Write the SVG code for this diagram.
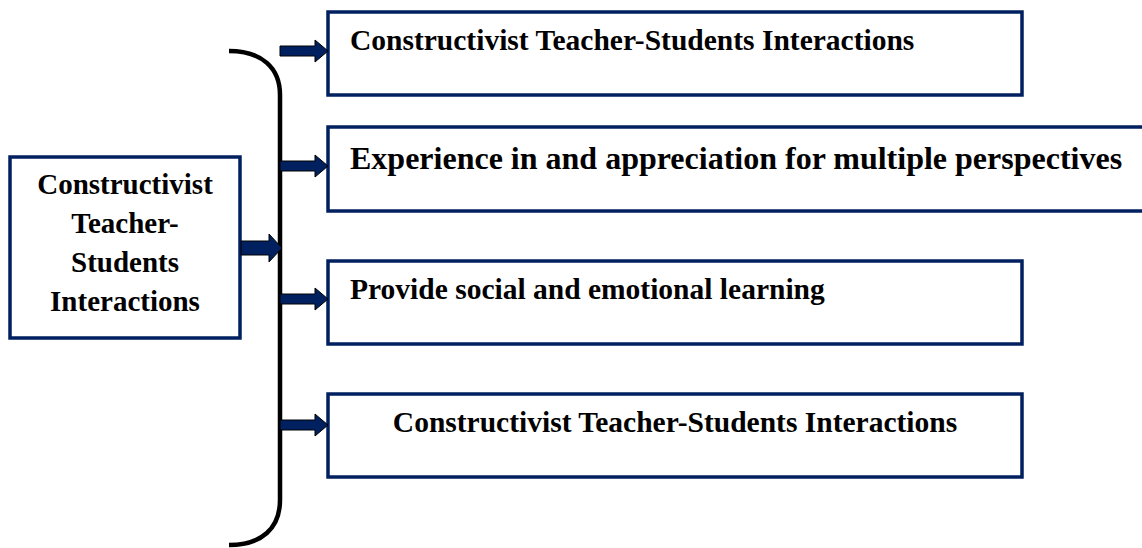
<svg xmlns="http://www.w3.org/2000/svg" xmlns:xlink="http://www.w3.org/1999/xlink" width="1142" height="548" viewBox="0 0 1142 548">
<style>
.box{fill:#fff;stroke:#002060;stroke-width:3.5}
.t{font-family:"Liberation Serif","Times New Roman",serif;font-weight:bold;fill:#000}
.arr{fill:#002060;stroke:#000;stroke-width:1}
.br{fill:none;stroke:#000;stroke-width:4.5}
</style>
<defs>
<polygon id="sa" class="arr" points="0,-5 35,-5 35,-11 48,0 35,11 35,5 0,5"/>
</defs>
<rect width="1142" height="548" fill="#fff"/>
<g id="n-main">
<rect class="box" x="10" y="157" width="230" height="181"/>
<text class="t" font-size="29" text-anchor="middle"><tspan x="125" y="194">Constructivist</tspan><tspan x="125" y="233">Teacher-</tspan><tspan x="125" y="272">Students</tspan><tspan x="125" y="311">Interactions</tspan></text>
</g>
<g id="n1">
<rect class="box" x="328" y="12" width="694" height="83"/>
<text class="t" font-size="29.5" x="350" y="50">Constructivist Teacher-Students Interactions</text>
</g>
<g id="n2">
<rect class="box" x="328" y="127" width="830" height="84"/>
<text class="t" font-size="32" x="350" y="169">Experience in and appreciation for multiple perspectives</text>
</g>
<g id="n3">
<rect class="box" x="328" y="261" width="694" height="83"/>
<text class="t" font-size="29.5" x="350" y="299">Provide social and emotional learning</text>
</g>
<g id="n4">
<rect class="box" x="328" y="394" width="694" height="83"/>
<text class="t" font-size="29.5" x="675" y="432" text-anchor="middle">Constructivist Teacher-Students Interactions</text>
</g>
<g id="connectors">
<path class="br" d="M229,51 C262,51 280,68 280,95 L280,500 C280,528 262,545 229,545"/>
<polygon class="arr" points="241,241 269,241 269,234 282,248 269,262 269,255 241,255"/>
<use xlink:href="#sa" x="280" y="51"/>
<use xlink:href="#sa" x="280" y="166"/>
<use xlink:href="#sa" x="280" y="299"/>
<use xlink:href="#sa" x="280" y="425"/>
</g>
</svg>
